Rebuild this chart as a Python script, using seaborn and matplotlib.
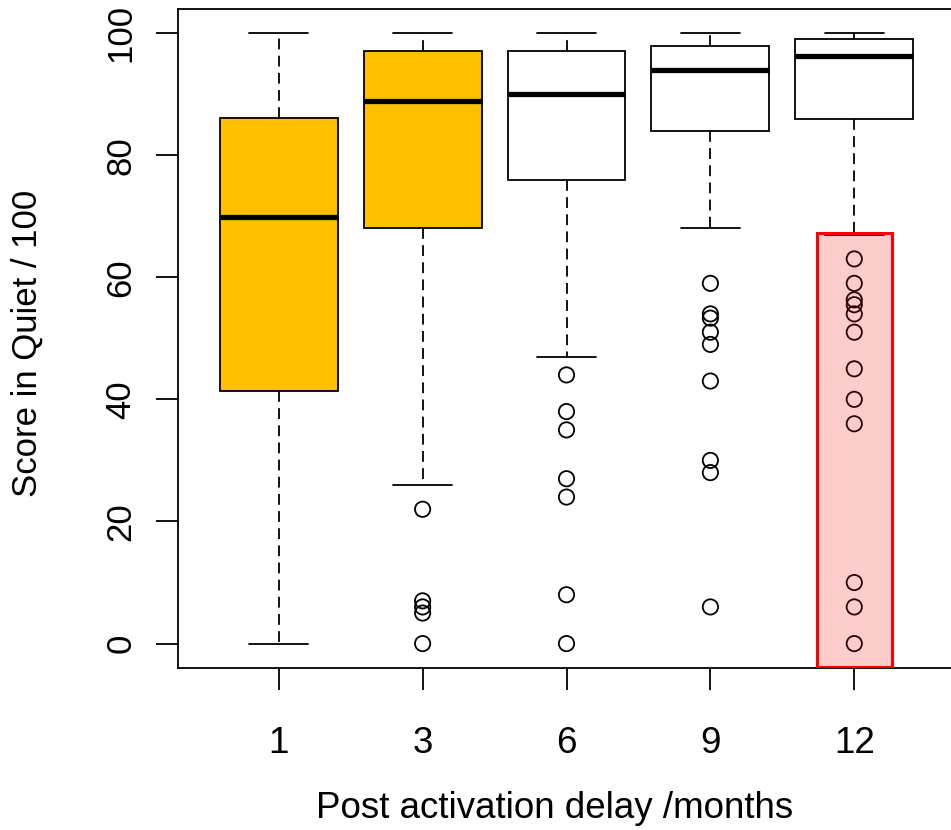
import numpy as np
import pandas as pd
import matplotlib
matplotlib.use("Agg")
import matplotlib.pyplot as plt
import seaborn as sns
from matplotlib.patches import Rectangle

# Box statistics (score in quiet / 100)
delays = ["1", "3", "6", "9", "12"]
whisker_lo = [0, 26, 47, 68, 66.9]
q1 = [41.4, 68.1, 75.9, 84.0, 85.9]
medians = [69.8, 88.9, 90.0, 94.0, 96.2]
q3 = [86.1, 97.1, 97.0, 97.9, 99.1]
whisker_hi = [100, 100, 100, 100, 100]

# Outliers per delay
outliers_1 = []
outliers_3 = [22, 7, 6, 5, 0]
outliers_6 = [44, 38, 35, 27, 24, 8, 0]
outliers_9 = [59, 54, 53.3, 51, 49, 43, 30, 28, 6]
outliers_12 = [63, 59, 56.3, 55.5, 54, 51, 45, 40, 36, 10, 6, 0]

box_colors = ["#FFC000", "#FFC000", "white", "white", "white"]
highlight_group = "12"
highlight_top = 67.3

sns.set_theme(style="white")
plt.rcParams["font.family"] = ["Liberation Sans", "DejaVu Sans"]

fig = plt.figure(figsize=(9.51, 8.3), dpi=100)
ax = fig.add_axes([178 / 951, 1 - 668 / 830, (955 - 178) / 951, (668 - 8.6) / 830])

stats = []
for i, d in enumerate(delays):
    stats.append(dict(label=d, whislo=whisker_lo[i], q1=q1[i], med=medians[i],
                      q3=q3[i], whishi=whisker_hi[i], fliers=[]))

bp = ax.bxp(stats, positions=range(len(delays)), widths=0.82, capwidths=0.41,
            patch_artist=True, showfliers=False,
            boxprops=dict(edgecolor="black", linewidth=1.3),
            whiskerprops=dict(color="black", linewidth=1.3, linestyle=(0, (6, 3.5))),
            capprops=dict(color="black", linewidth=1.3),
            medianprops=dict(color="black", linewidth=3.8, solid_capstyle="butt"))
for patch, col in zip(bp["boxes"], box_colors):
    patch.set_facecolor(col)

# outliers as open circles
all_out = [outliers_1, outliers_3, outliers_6, outliers_9, outliers_12]
df = pd.DataFrame({
    "delay": [d for d, o in zip(delays, all_out) for _ in o],
    "score": [v for o in all_out for v in o],
})
sns.stripplot(data=df, x="delay", y="score", order=delays, jitter=False,
              size=11, color="white", edgecolor="black", linewidth=1.3,
              ax=ax, zorder=3)
for coll in ax.collections:
    coll.set_facecolor("none")

# highlighted region over the 12-month outliers
hi = delays.index(highlight_group)
ax.add_patch(Rectangle((hi - 0.26, -3.9), 0.52, highlight_top + 3.9,
                       facecolor=(1, 0, 0, 0.2), edgecolor="red", linewidth=2.2,
                       zorder=4))

ax.set_xlim(-0.7, 4.7)
ax.set_ylim(-4, 104)
ax.set_xticks(range(len(delays)))
ax.set_xticklabels(delays)
ax.set_yticks([0, 20, 40, 60, 80, 100])
ax.set_yticklabels(["0", "20", "40", "60", "80", "100"])

for s in ax.spines.values():
    s.set_visible(True)
    s.set_color("black")
    s.set_linewidth(1.3)

ax.tick_params(bottom=True, left=True, direction="out", length=16, width=1.3,
               colors="black", labelsize=26.5)
ax.tick_params(axis="x", pad=26)
ax.tick_params(axis="y", pad=13, labelrotation=90, labelsize=25)
for lbl in ax.get_yticklabels():
    lbl.set_verticalalignment("center")

ax.set_xlabel("Post activation delay /months", fontsize=26.5, labelpad=21,
              color="black")
ax.set_ylabel("Score in Quiet / 100", fontsize=25, labelpad=44, color="black")
ax.xaxis.label.set_x(0.485)
ax.yaxis.label.set_y(0.492)

fig.savefig("out.png", dpi=100)
